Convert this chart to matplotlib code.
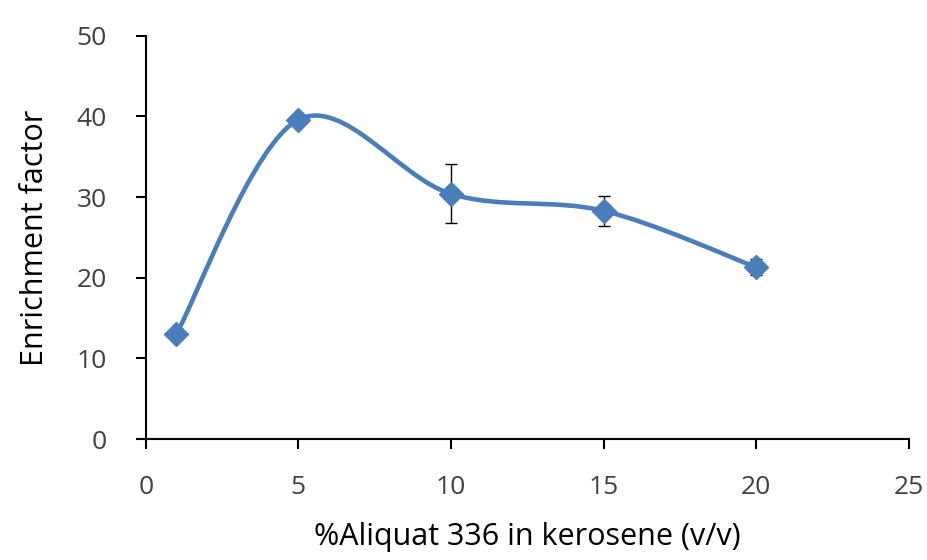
import matplotlib
matplotlib.use("Agg")
import matplotlib.pyplot as plt
from matplotlib.path import Path
from matplotlib.patches import PathPatch

# data
conc = [1, 5, 10, 15, 20]
ef = [13.0, 39.6, 30.4, 28.3, 21.3]
ef_err = [0.4, 0.5, 3.65, 1.9, 1.0]

BLUE = "#4a7ebb"
GREY = "#404040"

plt.rcParams["font.family"] = ["Open Sans", "DejaVu Sans"]

fig = plt.figure(figsize=(9.28, 5.6), dpi=100)
ax = fig.add_axes([0.157, 0.216, 0.8225, 0.72])

# smoothed line (Excel-style Catmull-Rom as cubic Bezier segments)
pts = list(zip(conc, ef))
verts = [pts[0]]
codes = [Path.MOVETO]
for i in range(len(pts) - 1):
    p0 = pts[max(i - 1, 0)]
    p1 = pts[i]
    p2 = pts[i + 1]
    p3 = pts[min(i + 2, len(pts) - 1)]
    c1 = (p1[0] + (p2[0] - p0[0]) / 6, p1[1] + (p2[1] - p0[1]) / 6)
    c2 = (p2[0] - (p3[0] - p1[0]) / 6, p2[1] - (p3[1] - p1[1]) / 6)
    verts += [c1, c2, p2]
    codes += [Path.CURVE4] * 3
ax.add_patch(PathPatch(Path(verts, codes), facecolor="none", edgecolor=BLUE,
                       lw=3.3, capstyle="round", joinstyle="round", zorder=2))

ax.errorbar(conc, ef, yerr=ef_err, fmt="none", ecolor="black", elinewidth=1,
            capsize=4, capthick=1, zorder=3)
ax.plot(conc, ef, linestyle="none", marker="D", markersize=12,
        color=BLUE, zorder=4)

ax.set_xlim(0, 25)
ax.set_ylim(0, 50)
ax.set_xticks(range(0, 26, 5))
ax.set_yticks(range(0, 51, 10))
for s in ["top", "right"]:
    ax.spines[s].set_visible(False)
for s in ["left", "bottom"]:
    ax.spines[s].set_linewidth(1.5)
ax.tick_params(axis="both", direction="out", length=7, width=1.5,
               labelsize=19, labelcolor=GREY)
ax.tick_params(axis="y", pad=21)
ax.tick_params(axis="x", pad=19)
ax.set_xlabel("%Aliquat 336 in kerosene (v/v)", fontsize=22, color="black",
              labelpad=16)
ax.set_ylabel("Enrichment factor", fontsize=22, color="black", labelpad=19)

fig.savefig("out.png", dpi=100)
